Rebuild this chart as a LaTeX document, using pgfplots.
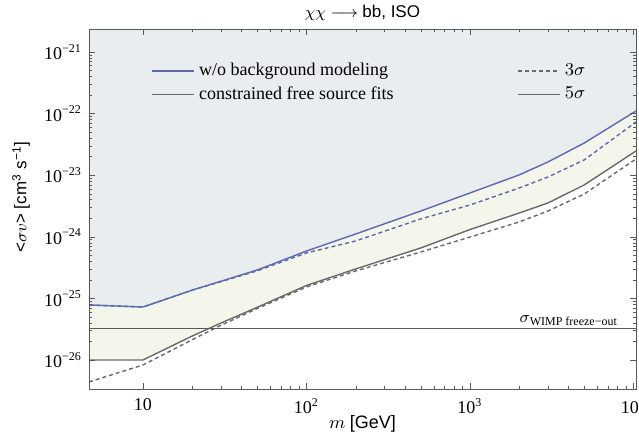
\documentclass[border=0pt]{standalone}
\usepackage{fontspec}
\setmainfont{Liberation Serif}
\setsansfont{Liberation Sans}
\usepackage{pgfplots}
\pgfplotsset{compat=1.18}
\usepgfplotslibrary{fillbetween}

\definecolor{bluec}{RGB}{92,106,172}
\definecolor{grayc}{RGB}{105,105,105}
\definecolor{topfill}{RGB}{233,237,240}
\definecolor{midfill}{RGB}{244,246,236}
\definecolor{axc}{RGB}{90,90,90}

\begin{document}
\begin{tikzpicture}
\begin{axis}[
  set layers, axis on top,
  scale only axis, width=273.5pt, height=180pt,
  xmode=log, ymode=log,
  xmin=4.675, xmax=10360, ymin=3.38e-27, ymax=2.36e-21,
  axis line style={axc},
  tick style={axc},
  major tick length=3pt, minor tick length=1.6pt,
  xtick={10,100,1000,10000},
  xticklabels={10,10\textsuperscript{2},10\textsuperscript{3},10\textsuperscript{4}},
  ytick={1e-26,1e-25,1e-24,1e-23,1e-22,1e-21},
  yticklabels={10\textsuperscript{−26},10\textsuperscript{−25},10\textsuperscript{−24},10\textsuperscript{−23},10\textsuperscript{−22},10\textsuperscript{−21}},
  tick label style={font=\fontsize{9}{10}\selectfont},
  xticklabel style={yshift=-1pt},
  title={$\chi\chi\longrightarrow$ \sffamily bb, ISO},
  title style={at={(axis description cs:0.5,1)},anchor=base,yshift=-0.5pt,font=\fontsize{8.5}{10}\selectfont},
  xlabel={$m$ \textsf{[GeV]}},
  xlabel style={at={(axis description cs:0.5,0)},anchor=base,yshift=-20pt,font=\fontsize{9}{10}\selectfont},
  ylabel={\sffamily\textless$\sigma v$\textgreater{} [cm\textsuperscript{3} s\textsuperscript{−1}]},
  ylabel style={at={(axis description cs:-0.124,0.533)},anchor=center,font=\fontsize{8.5}{10}\selectfont},
  legend columns=2,
  legend cell align=left,
  legend image code/.code={\draw[#1] (0pt,0pt) -- (21pt,0pt);},
  legend style={at={(axis description cs:0.114,0.917)},anchor=north west,draw=none,fill=none,
    font=\fontsize{9}{10}\selectfont,inner sep=0pt,row sep=0pt,
    /tikz/every even column/.append style={column sep=60pt}},
]
% boundaries
\addplot[draw=none, name path=top, forget plot] coordinates {(4.675,2.36e-21) (10360,2.36e-21)};
\addplot[bluec, line width=0.7pt, name path=bsol, forget plot] coordinates {
(4.675,7.81e-26) (10,7.24e-26) (20,1.36e-25) (50,2.89e-25) (100,5.87e-25) (200,1.11e-24)
(500,2.62e-24) (1000,5.14e-24) (2000,1.01e-23) (3000,1.64e-23) (5000,3.33e-23) (10360,1.10e-22)};
\addplot[bluec, line width=0.7pt, dash pattern=on 2pt off 1.5pt, forget plot] coordinates {
(4.675,7.81e-26) (10,7.24e-26) (20,1.36e-25) (50,2.80e-25) (100,5.46e-25) (200,8.55e-25)
(500,1.95e-24) (1000,3.28e-24) (2000,6.19e-24) (3000,9.35e-24) (5000,1.77e-23) (10360,7.31e-23)};
\addplot[grayc, line width=0.7pt, name path=gsol, forget plot] coordinates {
(4.675,1.0e-26) (10,1.0e-26) (20,2.45e-26) (30,3.98e-26) (50,7.16e-26) (100,1.62e-25) (200,3.0e-25)
(500,6.58e-25) (1000,1.31e-24) (2000,2.43e-24) (3000,3.54e-24) (5000,6.94e-24) (10360,2.47e-23)};
\addplot[grayc, line width=0.7pt, dash pattern=on 2pt off 1.5pt, forget plot] coordinates {
(4.675,4.4e-27) (10,8.3e-27) (20,2.13e-26) (30,3.66e-26) (50,6.85e-26) (100,1.53e-25) (200,2.79e-25)
(500,5.66e-25) (1000,9.9e-25) (2000,1.74e-24) (3000,2.62e-24) (5000,4.95e-24) (10360,1.83e-23)};
% freeze-out line
\addplot[axc, line width=0.6pt, forget plot] coordinates {(4.675,3.2e-26) (10360,3.2e-26)};
% fills
\addplot[topfill, forget plot] fill between[of=top and bsol];
\addplot[midfill, forget plot] fill between[of=bsol and gsol];
% legend
\addlegendimage{bluec, line width=0.7pt}
\addlegendentry{w/o background modeling}
\addlegendimage{grayc, line width=0.7pt, dash pattern=on 2pt off 1.5pt}
\addlegendentry{$3\sigma$}
\addlegendimage{grayc, line width=0.7pt}
\addlegendentry{constrained free source fits}
\addlegendimage{grayc, line width=0.7pt}
\addlegendentry{$5\sigma$}
\node[anchor=south east, font=\fontsize{8}{9}\selectfont, inner sep=1pt] at (axis cs:8300,3.3e-26) {$\sigma$\textsubscript{WIMP freeze−out}};
\coordinate (sw) at (rel axis cs:0,0);
\coordinate (ne) at (rel axis cs:1,1);
\end{axis}
\pgfresetboundingbox
\path ([shift={(-44.5pt,-27.5pt)}]sw) rectangle ([shift={(1.5pt,14.5pt)}]ne);
\end{tikzpicture}
\end{document}
